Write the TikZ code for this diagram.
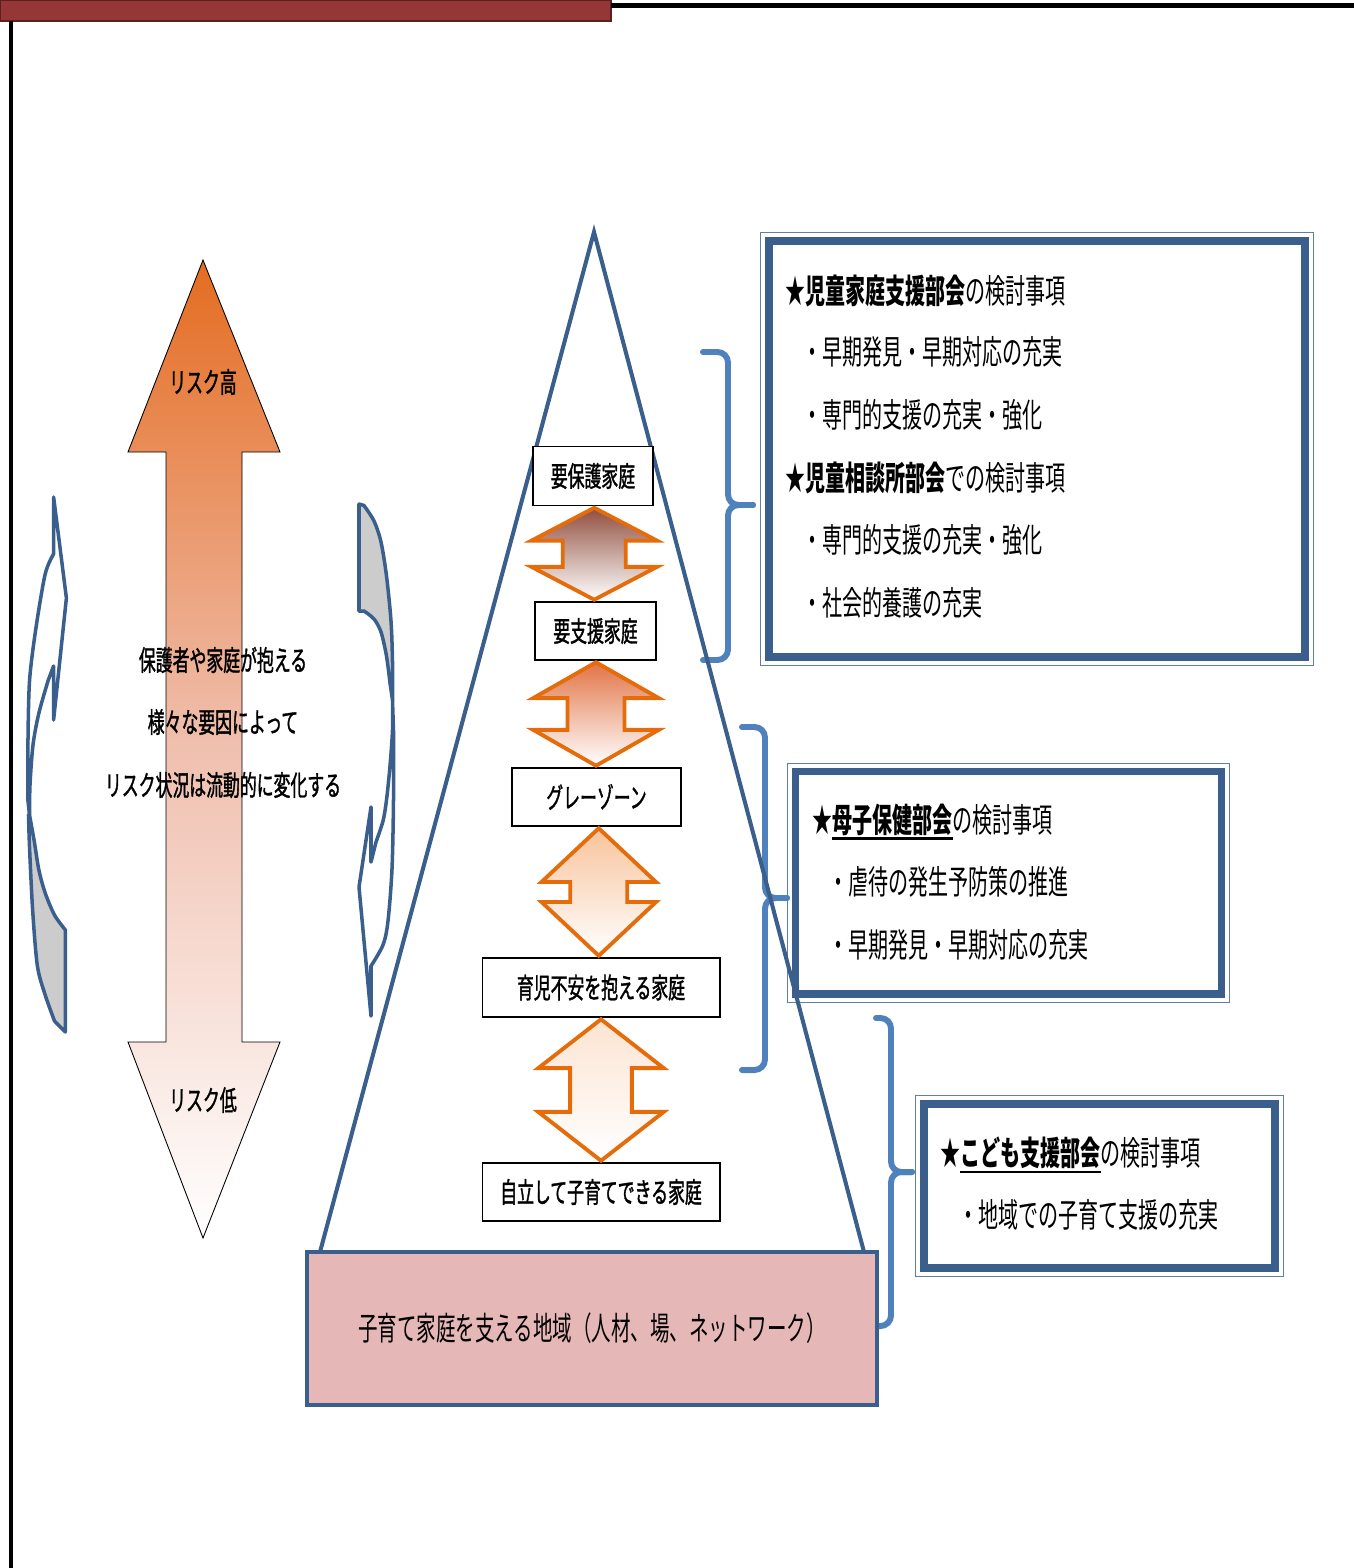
\documentclass[tikz,border=0pt]{standalone}
\usepackage{fontspec}
\newfontfamily\jp[FakeStretch=0.6]{Noto Sans CJK JP}
\newfontfamily\jpm[FakeStretch=0.6,FakeBold=1.2]{Noto Sans CJK JP}
\usepackage{tikz}
\usetikzlibrary{calc,fit}
\definecolor{barred}{RGB}{150,55,55}
\definecolor{pyrblue}{RGB}{58,95,140}
\definecolor{braceblue}{RGB}{79,129,189}
\definecolor{arrorange}{RGB}{228,108,10}
\definecolor{riskorange}{RGB}{228,108,32}
\definecolor{riskmid}{RGB}{240,192,175}
\definecolor{basepink}{RGB}{229,184,183}
\definecolor{stepa}{RGB}{145,78,62}
\definecolor{stepb}{RGB}{226,116,70}
\definecolor{stepc}{RGB}{248,195,155}
\definecolor{stepd}{RGB}{252,228,210}
\newcommand{\updown}[6]{%
  \path[blockarrow,top color=#6,bottom color=white]
    let \p1=(#1.south), \p2=(#2.north), \n1={0.5*\x1+0.5*\x2} in
    (\n1,\y1-1pt) -- (\n1+#4,\y1-1pt-#3) -- (\n1+#5,\y1-1pt-#3) -- (\n1+#5,\y2+1pt+#3)
    -- (\n1+#4,\y2+1pt+#3) -- (\n1,\y2+1pt) -- (\n1-#4,\y2+1pt+#3) -- (\n1-#5,\y2+1pt+#3)
    -- (\n1-#5,\y1-1pt-#3) -- (\n1-#4,\y1-1pt-#3) -- cycle;}
\newcommand{\kaiul}[1]{\setbox0=\hbox{#1}\rlap{\rule[-4pt]{\wd0}{1.3pt}}\box0}
\begin{document}
\begin{tikzpicture}[x=0.02cm,y=-0.02cm,
  famnode/.style={rectangle,draw=black,line width=0.6pt,fill=white,inner sep=0pt,
    font=\jpm\fontsize{16}{18}\selectfont},
  risklabel/.style={inner sep=0pt,font=\jpm\fontsize{16}{18}\selectfont},
  headline/.style={anchor=west,inner sep=0pt,font=\jp\fontsize{19}{22}\selectfont},
  panel/.style={rectangle,draw=pyrblue,line width=4.4pt,inner sep=0pt,fill=white},
  panelrim/.style={rectangle,draw=pyrblue!80,line width=0.7pt,inner sep=2.5pt},
  sidebrace/.style={draw=braceblue,line width=3.4pt,rounded corners=6pt,line cap=round},
  curvearrow/.style={draw=pyrblue,line width=2pt,line join=round},
  blockarrow/.style={draw=arrorange,line width=2.2pt},
  basebox/.style={rectangle,draw=pyrblue,line width=2.3pt,fill=basepink,
    font=\jp\fontsize{18.5}{21}\selectfont}
]
\useasboundingbox (0,0) rectangle (1354,1568);

\filldraw[fill=barred,draw=barred!60!black,line width=0.6pt] (0,0) rectangle (611,21);
\draw[line width=2.3pt] (611,5.5) -- (1354,5.5);
\draw[line width=2pt] (11,21) -- (11,1568);

% risk arrow
\path[draw=black,line width=0.5pt,top color=riskorange,bottom color=white,middle color=riskmid]
  (203,260) -- (280,452) -- (242,452) -- (242,1042) -- (280,1042) -- (203,1238)
  -- (128,1042) -- (166,1042) -- (166,452) -- (128,452) -- cycle;
\node[risklabel] (riskhi) at (203,382) {リスク高};
\node[risklabel] (risklo) at (203,1100) {リスク低};
\node[risklabel] (cause1) at (223,660) {保護者や家庭が抱える};
\node[risklabel] (cause2) at (223,722) {様々な要因によって};
\node[risklabel] (cause3) at (223,785) {リスク状況は流動的に変化する};

% circular arrows
\filldraw[curvearrow,fill=white] (53.6,497) -- (66.4,598) -- (53.6,720) -- (53.6,666)
  -- plot[smooth] coordinates {(48.3,680) (38.9,713) (33,745) (30,785) (29.5,815)}
  -- plot[smooth] coordinates {(28,801) (28,739) (29.6,680) (35.8,629) (45.2,574) (53.6,554)}
  -- cycle;
\filldraw[curvearrow,fill=gray!40]
  plot[smooth] coordinates {(29.5,815) (34.2,841) (38.9,870) (45.2,893) (54.5,915) (65.4,930)}
  -- (65.4,1032)
  -- plot[smooth] coordinates {(54.5,1021) (45.2,995) (37.4,966) (32.7,911) (29.6,849) (28.5,815)}
  -- cycle;
\filldraw[curvearrow,fill=gray!40] (359,504)
  -- plot[smooth] coordinates {(364,505.5) (374,521) (381,542) (386.5,576) (391,621) (392.5,662) (392.5,700)}
  -- plot[smooth] coordinates {(390,683) (386.5,656) (381,632) (374,619) (364,611)}
  -- (359,611) -- cycle;
\filldraw[curvearrow,fill=white] (371,1016) -- (359,887) -- (371,807) -- (371,862)
  -- plot[smooth] coordinates {(376,842) (383,821) (386.5,800) (390,766) (392.5,730) (392.5,700)}
  -- plot[smooth] coordinates {(393.5,731) (393.5,800) (392,869) (388,921) (383,945) (371,966)}
  -- cycle;

% panels
\node[panel,minimum width=10.72cm,minimum height=8.32cm] (panel1) at (1037,449) {};
\node[panelrim,fit=(panel1)] (rim1) {};
\node[headline] (head1) at (785,291) {★{\bfseries 児童家庭支援部会}の検討事項};
\node[headline] (item11) at (802,352) {・早期発見・早期対応の充実};
\node[headline] (item12) at (802,415) {・専門的支援の充実・強化};
\node[headline] (head2) at (785,478) {★{\bfseries 児童相談所部会}での検討事項};
\node[headline] (item21) at (802,540) {・専門的支援の充実・強化};
\node[headline] (item22) at (802,603) {・社会的養護の充実};

\node[panel,minimum width=8.52cm,minimum height=4.45cm] (panel2) at (1008.5,882.75) {};
\node[panelrim,fit=(panel2)] (rim2) {};
\node[headline] (head3) at (812,822) {★\kaiul{\bfseries 母子保健部会}の検討事項};
\node[headline] (item31) at (828,882) {・虐待の発生予防策の推進};
\node[headline] (item32) at (828,945) {・早期発見・早期対応の充実};

\node[panel,minimum width=7.02cm,minimum height=3.28cm] (panel3) at (1099.5,1186) {};
\node[panelrim,fit=(panel3)] (rim3) {};
\node[headline] (head4) at (940,1155) {★\kaiul{\bfseries こども支援部会}の検討事項};
\node[headline] (item41) at (958,1215) {・地域での子育て支援の充実};

% braces
\draw[sidebrace] (703,352) -- (728,352) -- (728,505) -- (753,505);
\draw[sidebrace] (753,505) -- (728,505) -- (728,660) -- (703,660);
\draw[sidebrace] (742,727) -- (765,727) -- (765,898) -- (787,898);
\draw[sidebrace] (787,898) -- (765,898) -- (765,1070) -- (742,1070);
\draw[sidebrace] (876,1018) -- (891,1018) -- (891,1172) -- (912,1172);
\draw[sidebrace] (912,1172) -- (891,1172) -- (891,1326) -- (876,1326);

% pyramid
\coordinate (apex) at (594,232);
\draw[pyrblue,line width=2.3pt] (320,1252) -- (apex) -- (864,1252);

\node[famnode,minimum width=2.4cm,minimum height=1.18cm] (care) at (593,476) {要保護家庭};
\node[famnode,minimum width=2.42cm,minimum height=1.16cm] (support) at (595.5,631) {要支援家庭};
\node[famnode,minimum width=3.38cm,minimum height=1.16cm] (grey) at (596.5,797) {グレーゾーン};
\node[famnode,minimum width=4.76cm,minimum height=1.18cm] (anxious) at (601,987.5) {育児不安を抱える家庭};
\node[famnode,minimum width=4.76cm,minimum height=1.16cm] (selfreliant) at (601,1192) {自立して子育てできる家庭};

\updown{care}{support}{18.7pt}{35.7pt}{17.9pt}{stepa}
\updown{support}{grey}{20.4pt}{35.7pt}{16.2pt}{stepb}
\updown{grey}{anxious}{30.6pt}{32.6pt}{16.2pt}{stepc}
\updown{anxious}{selfreliant}{27.8pt}{35.7pt}{17.6pt}{stepd}

\node[basebox,minimum width=11.4cm,minimum height=3.06cm] (base) at (592,1328.5)
  {子育て家庭を支える地域（人材、場、ネットワーク）};
\end{tikzpicture}
\end{document}
